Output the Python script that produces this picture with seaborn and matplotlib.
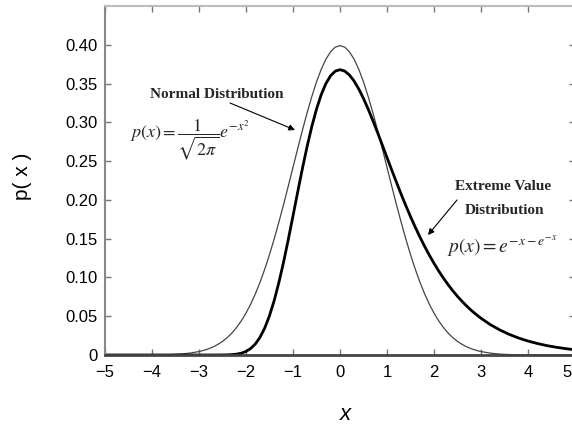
import numpy as np
import pandas as pd
import matplotlib
matplotlib.use("Agg")
import matplotlib.pyplot as plt
import matplotlib.transforms as mtransforms
import seaborn as sns

# ---- data ----
x_vals = [-5.0, -4.8, -4.6, -4.4, -4.2, -4.0, -3.8, -3.6, -3.4, -3.2,
          -3.0, -2.9, -2.8, -2.7, -2.6, -2.5, -2.4, -2.3, -2.2, -2.1,
          -2.0, -1.9, -1.8, -1.7, -1.6, -1.5, -1.4, -1.3, -1.2, -1.1,
          -1.0, -0.9, -0.8, -0.7, -0.6, -0.5, -0.4, -0.3, -0.2, -0.1,
          0.0,
          0.1, 0.2, 0.3, 0.4, 0.5, 0.6, 0.7, 0.8, 0.9, 1.0,
          1.1, 1.2, 1.3, 1.4, 1.5, 1.6, 1.7, 1.8, 1.9, 2.0,
          2.1, 2.2, 2.3, 2.4, 2.5, 2.6, 2.7, 2.8, 2.9, 3.0,
          3.2, 3.4, 3.6, 3.8, 4.0, 4.2, 4.4, 4.6, 4.8, 5.0]

normal_pdf = [0.0000, 0.0000, 0.0000, 0.0000, 0.0001, 0.0001, 0.0003, 0.0006, 0.0012, 0.0024,
              0.0044, 0.0060, 0.0079, 0.0104, 0.0136, 0.0175, 0.0224, 0.0283, 0.0355, 0.0440,
              0.0540, 0.0656, 0.0790, 0.0940, 0.1109, 0.1295, 0.1497, 0.1714, 0.1942, 0.2179,
              0.2420, 0.2661, 0.2897, 0.3123, 0.3332, 0.3521, 0.3683, 0.3814, 0.3910, 0.3970,
              0.3989,
              0.3970, 0.3910, 0.3814, 0.3683, 0.3521, 0.3332, 0.3123, 0.2897, 0.2661, 0.2420,
              0.2179, 0.1942, 0.1714, 0.1497, 0.1295, 0.1109, 0.0940, 0.0790, 0.0656, 0.0540,
              0.0440, 0.0355, 0.0283, 0.0224, 0.0175, 0.0136, 0.0104, 0.0079, 0.0060, 0.0044,
              0.0024, 0.0012, 0.0006, 0.0003, 0.0001, 0.0001, 0.0000, 0.0000, 0.0000, 0.0000]

extreme_pdf = [0.0000, 0.0000, 0.0000, 0.0000, 0.0000, 0.0000, 0.0000, 0.0000, 0.0000, 0.0000,
               0.0000, 0.0000, 0.0000, 0.0000, 0.0000, 0.0001, 0.0002, 0.0005, 0.0011, 0.0023,
               0.0046, 0.0084, 0.0143, 0.0230, 0.0350, 0.0507, 0.0703, 0.0936, 0.1200, 0.1490,
               0.1794, 0.2102, 0.2404, 0.2688, 0.2946, 0.3170, 0.3356, 0.3500, 0.3601, 0.3660,
               0.3679,
               0.3661, 0.3611, 0.3532, 0.3429, 0.3307, 0.3170, 0.3022, 0.2867, 0.2707, 0.2546,
               0.2386, 0.2229, 0.2075, 0.1927, 0.1785, 0.1650, 0.1522, 0.1401, 0.1288, 0.1182,
               0.1083, 0.0992, 0.0907, 0.0828, 0.0756, 0.0690, 0.0628, 0.0572, 0.0521, 0.0474,
               0.0391, 0.0323, 0.0266, 0.0219, 0.0180, 0.0148, 0.0121, 0.0100, 0.0082, 0.0067]

x_ticks = [-5, -4, -3, -2, -1, 0, 1, 2, 3, 4, 5]
x_tick_labels = ["\u22125", "\u22124", "\u22123", "\u22122", "\u22121", "0", "1", "2", "3", "4", "5"]
y_ticks = [0, 0.05, 0.10, 0.15, 0.20, 0.25, 0.30, 0.35, 0.40]
y_tick_labels = ["0", "0.05", "0.10", "0.15", "0.20", "0.25", "0.30", "0.35", "0.40"]

x_label = "x"
y_label = "p( x )"
normal_title = "Normal Distribution"
normal_formula = r"$p(x) = \dfrac{1}{\sqrt{2\pi}}e^{-x^2}$"
extreme_title1 = "Extreme Value"
extreme_title2 = "Distribution"
extreme_formula = r"$p(x) = e^{-x-e^{-x}}$"

# ---- style ----
sns.set_theme(style="ticks")
plt.rcParams["font.family"] = ["Liberation Sans", "DejaVu Sans"]
plt.rcParams["mathtext.fontset"] = "stix"

W, H = 572, 424
fig = plt.figure(figsize=(W / 100, H / 100), dpi=100)
fig.patch.set_facecolor("white")

def fx(px):
    return px / W

def fy(py):
    return 1 - py / H

# axes: left spine at 105 px, bottom at 355 px, top at 6 px, right at ~575 px (clipped)
ax = fig.add_axes([fx(105), fy(355), 470 / W, (355 - 6) / H])
ax.set_facecolor("white")

df = pd.DataFrame({"x": x_vals, "normal": normal_pdf, "extreme": extreme_pdf})
sns.lineplot(data=df, x="x", y="normal", ax=ax, color="#444444", linewidth=0.9)
sns.lineplot(data=df, x="x", y="extreme", ax=ax, color="black", linewidth=2.0)

ax.set_xlim(-5, 5)
ax.set_ylim(0, 0.45)
ax.set_xticks(x_ticks)
ax.set_xticklabels(x_tick_labels)
ax.set_yticks(y_ticks)
ax.set_yticklabels(y_tick_labels)
ax.tick_params(axis="both", which="both", direction="in", length=4, width=1,
               color="#777777", labelsize=12, labelcolor="black",
               top=True, right=True, pad=5)
ax.tick_params(axis="x", pad=7)

ax.spines["left"].set_color("#888888")
ax.spines["left"].set_linewidth(1.5)
ax.spines["top"].set_color("#bbbbbb")
ax.spines["top"].set_linewidth(1.5)
ax.spines["right"].set_color("#888888")
ax.spines["right"].set_linewidth(1.5)
ax.spines["bottom"].set_color("#444444")
ax.spines["bottom"].set_linewidth(2.0)

ax.set_xlabel("")
ax.set_ylabel("")
fig.text(fx(345), fy(414), x_label, ha="center", va="center", fontsize=16,
         style="italic", color="black")
fig.text(fx(22), fy(176), y_label, ha="center", va="center", fontsize=15,
         rotation=90, color="black")

serif = ["Liberation Serif", "DejaVu Serif"]
fig.text(fx(217), fy(95), normal_title, ha="center", va="center", fontsize=11,
         fontweight="bold", family=serif)
fig.text(fx(190), fy(140), normal_formula, ha="center", va="center", fontsize=13)
fig.text(fx(503), fy(187), extreme_title1, ha="center", va="center", fontsize=11,
         fontweight="bold", family=serif)
fig.text(fx(505), fy(211), extreme_title2, ha="center", va="center", fontsize=11,
         fontweight="bold", family=serif)
fig.text(fx(502), fy(246), extreme_formula, ha="center", va="center", fontsize=14)

arrow_kw = dict(arrowstyle="-|>", color="black", lw=0.8, mutation_scale=9,
                shrinkA=0, shrinkB=0)
ax.annotate("", xy=(fx(295), fy(130)), xytext=(fx(230), fy(103)),
            xycoords=fig.transFigure, textcoords=fig.transFigure, arrowprops=arrow_kw)
ax.annotate("", xy=(fx(428), fy(235)), xytext=(fx(457), fy(200)),
            xycoords=fig.transFigure, textcoords=fig.transFigure, arrowprops=arrow_kw)

# keep the last x tick label ("5") inside the picture edge
last_lbl = ax.get_xticklabels()[-1]
last_lbl.set_transform(last_lbl.get_transform() +
                       mtransforms.ScaledTranslation(-8 / 100, 0, fig.dpi_scale_trans))

fig.savefig("out.png", dpi=100, facecolor="white")
